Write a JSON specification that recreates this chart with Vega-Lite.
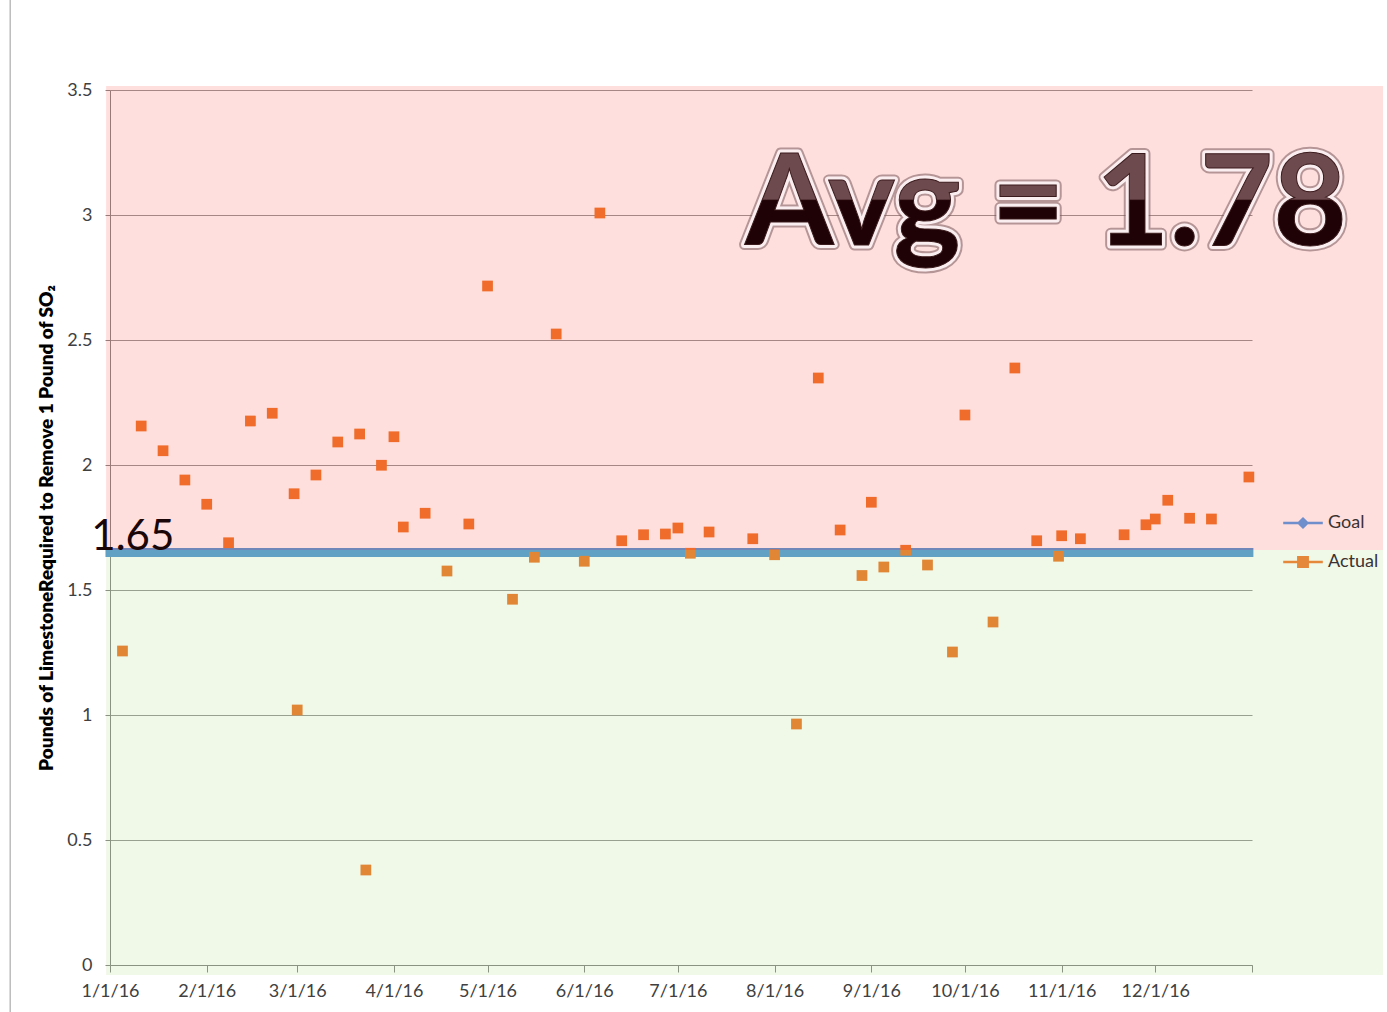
{
  "$schema": "https://vega.github.io/schema/vega-lite/v6.json",
  "width": 1142,
  "height": 875,
  "autosize": {"type": "none"},
  "padding": {"left": 110, "top": 90, "right": 135, "bottom": 47},
  "background": "white",
  "config": {"view": {"stroke": null}, "font": "Lato"},
  "datasets": {
    "actual": [
      {"date": "2016-01-05", "value": 1.256},
      {"date": "2016-01-11", "value": 2.156},
      {"date": "2016-01-18", "value": 2.057},
      {"date": "2016-01-25", "value": 1.94},
      {"date": "2016-02-01", "value": 1.843},
      {"date": "2016-02-08", "value": 1.689},
      {"date": "2016-02-15", "value": 2.176},
      {"date": "2016-02-22", "value": 2.207},
      {"date": "2016-02-29", "value": 1.885},
      {"date": "2016-03-01", "value": 1.02},
      {"date": "2016-03-07", "value": 1.96},
      {"date": "2016-03-14", "value": 2.092},
      {"date": "2016-03-21", "value": 2.124},
      {"date": "2016-03-23", "value": 0.38},
      {"date": "2016-03-28", "value": 1.999},
      {"date": "2016-04-01", "value": 2.113},
      {"date": "2016-04-04", "value": 1.752},
      {"date": "2016-04-11", "value": 1.807},
      {"date": "2016-04-18", "value": 1.576},
      {"date": "2016-04-25", "value": 1.764},
      {"date": "2016-05-01", "value": 2.716},
      {"date": "2016-05-09", "value": 1.463},
      {"date": "2016-05-16", "value": 1.631},
      {"date": "2016-05-23", "value": 2.524},
      {"date": "2016-06-01", "value": 1.615},
      {"date": "2016-06-06", "value": 3.008},
      {"date": "2016-06-13", "value": 1.697},
      {"date": "2016-06-20", "value": 1.721},
      {"date": "2016-06-27", "value": 1.724},
      {"date": "2016-07-01", "value": 1.748},
      {"date": "2016-07-05", "value": 1.647},
      {"date": "2016-07-11", "value": 1.732},
      {"date": "2016-07-25", "value": 1.705},
      {"date": "2016-08-01", "value": 1.641},
      {"date": "2016-08-08", "value": 0.964},
      {"date": "2016-08-15", "value": 2.348},
      {"date": "2016-08-22", "value": 1.74},
      {"date": "2016-08-29", "value": 1.558},
      {"date": "2016-09-01", "value": 1.851},
      {"date": "2016-09-05", "value": 1.592},
      {"date": "2016-09-12", "value": 1.659},
      {"date": "2016-09-19", "value": 1.6},
      {"date": "2016-09-27", "value": 1.252},
      {"date": "2016-10-01", "value": 2.2},
      {"date": "2016-10-10", "value": 1.372},
      {"date": "2016-10-17", "value": 2.388},
      {"date": "2016-10-24", "value": 1.697},
      {"date": "2016-10-31", "value": 1.635},
      {"date": "2016-11-01", "value": 1.717},
      {"date": "2016-11-07", "value": 1.705},
      {"date": "2016-11-21", "value": 1.721},
      {"date": "2016-11-28", "value": 1.761},
      {"date": "2016-12-01", "value": 1.784},
      {"date": "2016-12-05", "value": 1.859},
      {"date": "2016-12-12", "value": 1.787},
      {"date": "2016-12-19", "value": 1.784},
      {"date": "2016-12-31", "value": 1.952}
    ],
    "goal": [
      {"date": "2016-01-01", "goal": 1.65},
      {"date": "2016-12-31", "goal": 1.65}
    ],
    "legendItems": [
      {"series": "Goal"},
      {"series": "Actual"}
    ],
    "zones": [
      {"zone": "above goal", "start": "2015-12-30T18:00:00Z", "end": "2017-02-12", "low": 1.66, "high": 3.516, "tint": "#FF0000"},
      {"zone": "below goal", "start": "2015-12-30T18:00:00Z", "end": "2017-02-12", "low": -0.04, "high": 1.66, "tint": "#8CCB4A"}
    ],
    "notes": [
      {"date": "2016-10-27", "value": 2.88, "label": "Avg = 1.78"}
    ],
    "goalLabel": [
      {"date": "2015-12-26", "value": 1.66, "label": "1.65"}
    ],
    "border": [
      {"date": "2015-11-30", "top": 3.86, "bottom": -0.19}
    ]
  },
  "encoding": {
    "x": {
      "field": "date",
      "type": "temporal",
      "scale": {"type": "utc", "domain": [{"year": 2016, "month": 1, "date": 1, "utc": true}, {"year": 2017, "month": 1, "date": 1, "utc": true}]},
      "axis": {
        "title": null,
        "values": [
          {"year": 2016, "month": 1, "date": 1, "utc": true},
          {"year": 2016, "month": 2, "date": 1, "utc": true},
          {"year": 2016, "month": 3, "date": 1, "utc": true},
          {"year": 2016, "month": 4, "date": 1, "utc": true},
          {"year": 2016, "month": 5, "date": 1, "utc": true},
          {"year": 2016, "month": 6, "date": 1, "utc": true},
          {"year": 2016, "month": 7, "date": 1, "utc": true},
          {"year": 2016, "month": 8, "date": 1, "utc": true},
          {"year": 2016, "month": 9, "date": 1, "utc": true},
          {"year": 2016, "month": 10, "date": 1, "utc": true},
          {"year": 2016, "month": 11, "date": 1, "utc": true},
          {"year": 2016, "month": 12, "date": 1, "utc": true},
          {"year": 2017, "month": 1, "date": 1, "utc": true}
        ],
        "labelExpr": "utcyear(datum.value) > 2016 ? '' : utcFormat(datum.value, '%-m/%-d/%y')",
        "grid": false,
        "domainColor": "#8a8a8a",
        "tickColor": "#8a8a8a",
        "tickSize": 7,
        "labelPadding": 10,
        "labelFont": "Lato",
        "labelFontSize": 18,
        "labelColor": "#404040",
        "labelOverlap": false,
        "labelFlush": false
      }
    }
  },
  "layer": [
    {
      "data": {"name": "goal"},
      "mark": {"type": "line", "color": "#5B9BD5", "strokeWidth": 9, "strokeCap": "square"},
      "encoding": {
        "y": {
          "field": "goal",
          "type": "quantitative",
          "scale": {"domain": [0, 3.5], "nice": false, "zero": false},
          "axis": {
            "title": "Pounds of LimestoneRequired to Remove 1 Pound of SO₂",
            "titleFont": "Lato",
            "titleFontSize": 19,
            "titleFontWeight": 800,
            "titleColor": "#000000",
            "titlePadding": 10,
            "values": [0, 0.5, 1, 1.5, 2, 2.5, 3, 3.5],
            "labelExpr": "datum.value + ''",
            "grid": true,
            "gridColor": "#9a9a9a",
            "gridWidth": 1,
            "domainColor": "#8a8a8a",
            "tickColor": "#8a8a8a",
            "tickSize": 5,
            "labelPadding": 13,
            "labelFont": "Lato",
            "labelFontSize": 18,
            "labelColor": "#404040"
          }
        }
      }
    },
    {
      "data": {"name": "actual"},
      "mark": {"type": "point", "shape": "square", "filled": true, "size": 115, "opacity": 1, "color": "#ED7D31"},
      "encoding": {
        "y": {"field": "value", "type": "quantitative"}
      }
    },
    {
      "data": {"name": "legendItems"},
      "transform": [{"filter": "false"}],
      "mark": {"type": "point", "filled": true, "opacity": 1},
      "encoding": {
        "color": {
          "field": "series",
          "type": "nominal",
          "scale": {"domain": ["Goal", "Actual"], "range": ["#6E8FCB", "#E5883A"]},
          "legend": {
            "orient": "none",
            "legendX": 1175,
            "legendY": 415,
            "title": null,
            "padding": 0,
            "symbolSize": 1296,
            "symbolStrokeWidth": 0,
            "symbolOpacity": 1,
            "labelFont": "Lato",
            "labelFontSize": 18,
            "labelColor": "#3a3232",
            "labelOffset": 7,
            "rowPadding": 12
          }
        },
        "shape": {
          "field": "series",
          "type": "nominal",
          "scale": {"domain": ["Goal", "Actual"], "range": ["M-1.1,-0.07H1.1V0.07H-1.1Z M0,-0.34L0.34,0L0,0.34L-0.34,0Z", "M-1.1,-0.07H1.1V0.07H-1.1Z M-0.33,-0.33H0.33V0.33H-0.33Z"]}
        }
      }
    },
    {
      "data": {"name": "zones"},
      "mark": {"type": "rect", "opacity": 0.13, "clip": false},
      "encoding": {
        "x": {"field": "start", "type": "temporal"},
        "x2": {"field": "end"},
        "y": {"field": "low", "type": "quantitative"},
        "y2": {"field": "high"},
        "fill": {"field": "tint", "type": "nominal", "scale": null, "legend": null}
      }
    },
    {
      "data": {"name": "goalLabel"},
      "mark": {"type": "text", "align": "left", "baseline": "alphabetic", "font": "Lato", "fontSize": 42, "color": "#1a0606"},
      "encoding": {
        "y": {"field": "value", "type": "quantitative"},
        "text": {"field": "label"}
      }
    },
    {
      "data": {"name": "notes"},
      "mark": {"type": "text", "align": "center", "baseline": "alphabetic", "font": "Lato", "fontWeight": "bold", "fontSize": 127, "fill": "#8a6a6c", "stroke": "#7a5a5c", "strokeWidth": 11, "strokeJoin": "round", "opacity": 0.55},
      "encoding": {
        "y": {"field": "value", "type": "quantitative"},
        "text": {"field": "label"}
      }
    },
    {
      "data": {"name": "notes"},
      "mark": {"type": "text", "align": "center", "baseline": "alphabetic", "font": "Lato", "fontWeight": "bold", "fontSize": 127, "fill": "#fbeef0", "stroke": "#fbeef0", "strokeWidth": 7, "strokeJoin": "round"},
      "encoding": {
        "y": {"field": "value", "type": "quantitative"},
        "text": {"field": "label"}
      }
    },
    {
      "data": {"name": "notes"},
      "mark": {
        "type": "text", "align": "center", "baseline": "alphabetic", "font": "Lato", "fontWeight": "bold", "fontSize": 127,
        "fill": {"gradient": "linear", "x1": 0, "y1": 0, "x2": 0, "y2": 1, "stops": [
          {"offset": 0, "color": "#6d4a4d"},
          {"offset": 0.52, "color": "#6d4a4d"},
          {"offset": 0.53, "color": "#1f0205"},
          {"offset": 1, "color": "#1f0205"}
        ]},
        "stroke": "#3a1a1c", "strokeWidth": 1
      },
      "encoding": {
        "y": {"field": "value", "type": "quantitative"},
        "text": {"field": "label"}
      }
    },
    {
      "data": {"name": "border"},
      "mark": {"type": "rule", "color": "#9a9a9a", "strokeWidth": 1, "clip": false},
      "encoding": {
        "y": {"field": "top", "type": "quantitative"},
        "y2": {"field": "bottom"}
      }
    }
  ]
}
